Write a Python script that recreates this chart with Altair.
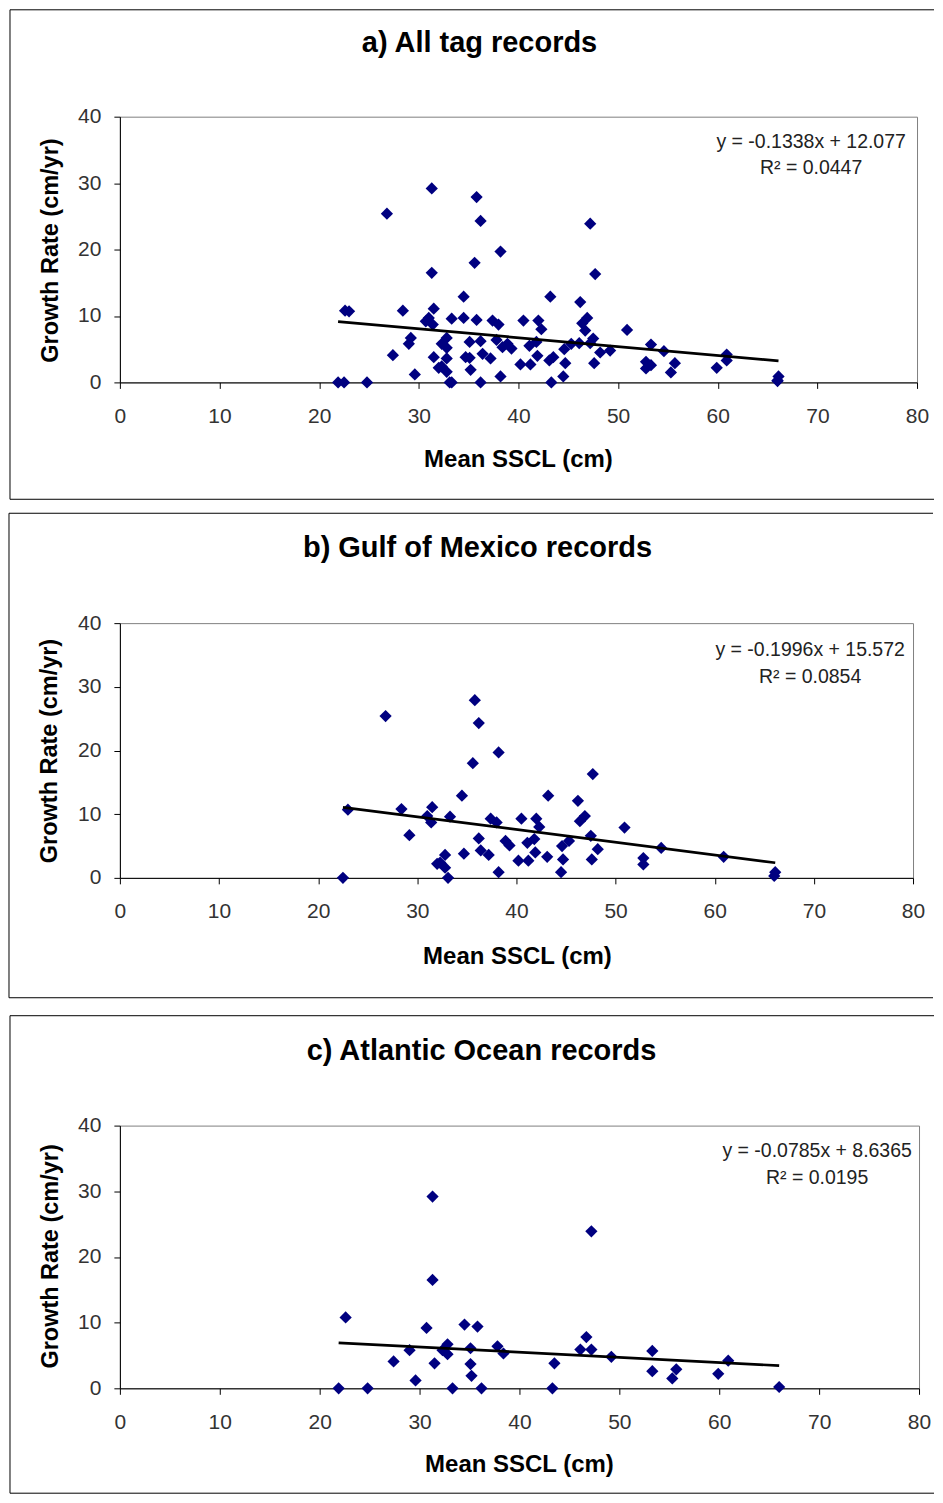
import altair as alt
import pandas as pd

# ---------------- data ----------------
gulf_x = [35.8, 26.8, 36.2, 38.2, 35.6, 47.7, 34.5, 43.2, 46.2, 23.0,
          28.4, 31.5, 31.0, 31.4, 33.3, 37.4, 38.0, 40.5, 42.0, 42.3,
          46.9, 46.4, 50.9, 29.2, 36.2, 41.8, 38.9, 39.3, 41.1, 45.3,
          44.6, 47.5, 48.2, 47.6, 32.8, 32.3, 32.0, 32.8, 34.7, 36.4,
          37.2, 40.2, 41.2, 41.9, 43.1, 44.7, 38.2, 44.5, 22.5, 33.1,
          54.6, 52.8, 52.8, 60.9, 66.1, 66.0]
gulf_y = [27.9, 25.4, 24.3, 19.7, 18.0, 16.3, 12.9, 12.9, 12.1, 10.7,
          10.8, 11.1, 9.7, 8.7, 9.6, 9.3, 8.7, 9.3, 9.3, 8.0,
          9.7, 8.9, 7.9, 6.7, 6.2, 6.1, 5.8, 5.1, 5.5, 5.8,
          5.0, 6.6, 4.5, 2.9, 3.6, 2.4, 2.2, 1.6, 3.8, 4.3,
          3.6, 2.7, 2.7, 4.0, 3.3, 2.9, 0.9, 0.9, 0.0, 0.0,
          4.7, 3.1, 2.1, 3.3, 0.9, 0.3]

atl_x = [21.9, 24.8, 33.3, 36.2, 43.3, 66.0, 31.3, 47.2, 31.3, 22.6,
         30.7, 34.5, 35.8, 46.7, 46.1, 47.2, 49.2, 29.0, 27.4, 31.5,
         32.8, 32.3, 32.8, 35.1, 35.1, 35.2, 37.8, 38.4, 43.5, 29.6,
         53.3, 53.3, 55.7, 55.3, 59.9, 60.9]
atl_y = [0.0, 0.0, 0.0, 0.0, 0.0, 0.2, 29.2, 23.9, 16.5, 10.8,
         9.2, 9.7, 9.4, 7.8, 5.9, 5.9, 4.8, 5.8, 4.1, 3.8,
         6.7, 5.8, 5.2, 6.1, 3.7, 1.9, 6.4, 5.3, 3.8, 1.2,
         5.7, 2.6, 2.9, 1.5, 2.2, 4.2]

titles = ["a) All tag records", "b) Gulf of Mexico records", "c) Atlantic Ocean records"]
slopes = [-0.1338, -0.1996, -0.0785]
intercepts = [12.077, 15.572, 8.6365]
eq_labels = ["y = -0.1338x  + 12.077", "y = -0.1996x  + 15.572", "y = -0.0785x  + 8.6365"]
r2_labels = ["R\u00b2 = 0.0447", "R\u00b2 = 0.0854", "R\u00b2 = 0.0195"]
x_ticks = [0, 10, 20, 30, 40, 50, 60, 70, 80]
y_ticks = [0, 10, 20, 30, 40]
x_title = "Mean SSCL (cm)"
y_title = "Growth Rate (cm/yr)"

FONT = "Liberation Sans"

gulf = pd.DataFrame({"sscl": gulf_x, "growth": gulf_y})
atl = pd.DataFrame({"sscl": atl_x, "growth": atl_y})
alltags = pd.concat([gulf, atl], ignore_index=True)
datasets = [alltags, gulf, atl]

# layout (pixels relative to each plot area)
layout = [
    dict(w=798, h=266, box=(-110, 815, -107, 383), title=(360, -65),
         eq=(692, 31.5, 57.5), xt=(399, 351), yt=(-69, 134)),
    dict(w=794, h=255, box=(-111, 814, -110, 375), title=(358, -66),
         eq=(691, 32.5, 59.5), xt=(398, 341), yt=(-70, 128)),
    dict(w=800, h=263, box=(-110, 815, -110, 368), title=(362, -66),
         eq=(698, 31.5, 58.5), xt=(400, 347), yt=(-69, 131)),
]


def one():
    return alt.Chart(pd.DataFrame({"k": [0]}))


def panel(i):
    df = datasets[i]
    L = layout[i]
    xenc = alt.X("sscl:Q", scale=alt.Scale(domain=[0, 80], nice=False),
                 axis=alt.Axis(values=x_ticks, title=None, labelFlush=False,
                               labelPadding=17, tickSize=6))
    yenc = alt.Y("growth:Q", scale=alt.Scale(domain=[0, 40], nice=False),
                 axis=alt.Axis(values=y_ticks, title=None, labelPadding=13, tickSize=6))

    bx0, bx1, by0, by1 = L["box"]
    frame_top = one().mark_rule(color="black", strokeWidth=1).encode(
        x=alt.value(bx0), x2=alt.value(bx1), y=alt.value(by0))
    frame_bottom = one().mark_rule(color="black", strokeWidth=1).encode(
        x=alt.value(bx0), x2=alt.value(bx1), y=alt.value(by1))
    frame_left = one().mark_rule(color="black", strokeWidth=1).encode(
        x=alt.value(bx0), y=alt.value(by0), y2=alt.value(by1))

    pts = alt.Chart(df).mark_point(shape="diamond", filled=True, color="#000080",
                                   size=150, opacity=1).encode(x=xenc, y=yenc)

    tdf = pd.DataFrame({"sscl": [df["sscl"].min(), df["sscl"].max()]})
    trend = alt.Chart(tdf).transform_calculate(
        growth=f"{slopes[i]} * datum.sscl + {intercepts[i]}"
    ).mark_line(color="black", strokeWidth=2.7).encode(x=xenc, y=yenc)

    tx, ty = L["title"]
    title = one().mark_text(text=titles[i], font=FONT, fontSize=29, fontWeight="bold",
                            align="center", baseline="alphabetic",
                            color="black").encode(x=alt.value(tx), y=alt.value(ty))

    ex, ey1, ey2 = L["eq"]
    eq1 = one().mark_text(text=eq_labels[i], font=FONT, fontSize=19.5,
                          align="center", baseline="alphabetic", color="#222").encode(
        x=alt.value(ex), y=alt.value(ey1))
    eq2 = one().mark_text(text=r2_labels[i], font=FONT, fontSize=19.5,
                          align="center", baseline="alphabetic", color="#222").encode(
        x=alt.value(ex), y=alt.value(ey2))

    xtx, xty = L["xt"]
    xt = one().mark_text(text=x_title, font=FONT, fontSize=24, fontWeight="bold",
                         align="center", baseline="alphabetic",
                         color="black").encode(x=alt.value(xtx), y=alt.value(xty))
    ytx, yty = L["yt"]
    yt = one().mark_text(text=y_title, font=FONT, fontSize=23.5, fontWeight="bold",
                         align="center", baseline="middle", angle=270,
                         color="black").encode(x=alt.value(ytx), y=alt.value(yty))

    return alt.layer(frame_top, frame_bottom, frame_left, pts, trend, title,
                     eq1, eq2, xt, yt).properties(width=L["w"], height=L["h"])


chart = alt.vconcat(
    panel(0),
    alt.vconcat(panel(1), panel(2), spacing=16),
    spacing=12,
).properties(
    padding=0,
).configure(
    background="white",
    padding=0,
).configure_view(
    stroke="#808080", strokeWidth=1,
).configure_axis(
    grid=False, domainColor="black", domainWidth=1, tickColor="black", tickWidth=1,
    labelFont=FONT, labelFontSize=21, labelColor="#333",
)

chart.save("out.html", embed_options={"renderer": "svg", "actions": False})
